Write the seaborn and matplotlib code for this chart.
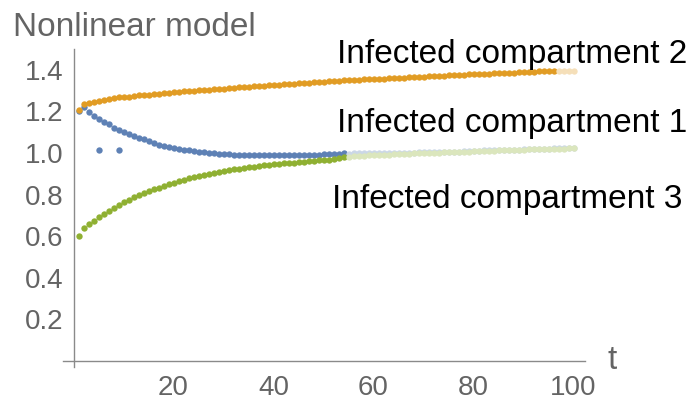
import matplotlib
matplotlib.use("Agg")
import matplotlib.pyplot as plt
import numpy as np
import pandas as pd
import seaborn as sns
from matplotlib.ticker import MultipleLocator, FixedLocator

# sampling times
t = list(range(1, 101))

# infected compartment 1 (blue)
compartment_1 = [
    1.200, 1.222, 1.195, 1.180, 1.162, 1.150, 1.137, 1.122, 1.110, 1.101,
    1.092, 1.082, 1.073, 1.065, 1.057, 1.048, 1.040, 1.035, 1.029, 1.025,
    1.020, 1.016, 1.013, 1.010, 1.007, 1.004, 1.001, 0.998, 0.996, 0.994,
    0.993, 0.992, 0.991, 0.990, 0.989, 0.989, 0.988, 0.988, 0.988, 0.988,
    0.988, 0.988, 0.989, 0.989, 0.990, 0.990, 0.991, 0.991, 0.992, 0.993,
    0.994, 0.995, 0.996, 0.998, 0.997, 0.998, 0.998, 0.998, 0.998, 0.998,
    0.998, 0.999, 0.999, 0.999, 1.000, 1.000, 1.001, 1.002, 1.006, 1.007,
    1.007, 1.006, 1.006, 1.006, 1.006, 1.007, 1.007, 1.008, 1.009, 1.010,
    1.011, 1.012, 1.013, 1.013, 1.014, 1.014, 1.015, 1.016, 1.016, 1.017,
    1.018, 1.018, 1.019, 1.020, 1.021, 1.023, 1.023, 1.023, 1.023, 1.023,
]

# infected compartment 2 (orange)
compartment_2 = [
    1.207, 1.236, 1.242, 1.247, 1.251, 1.256, 1.259, 1.262, 1.267, 1.269,
    1.271, 1.275, 1.277, 1.278, 1.280, 1.284, 1.286, 1.288, 1.290, 1.293,
    1.295, 1.296, 1.298, 1.299, 1.301, 1.303, 1.305, 1.306, 1.308, 1.310,
    1.312, 1.313, 1.315, 1.317, 1.318, 1.320, 1.322, 1.323, 1.325, 1.327,
    1.328, 1.330, 1.331, 1.333, 1.335, 1.336, 1.338, 1.340, 1.342, 1.343,
    1.344, 1.346, 1.347, 1.349, 1.351, 1.352, 1.353, 1.354, 1.355, 1.356,
    1.357, 1.358, 1.359, 1.360, 1.361, 1.362, 1.363, 1.364, 1.366, 1.367,
    1.368, 1.369, 1.370, 1.372, 1.373, 1.374, 1.376, 1.377, 1.378, 1.379,
    1.380, 1.381, 1.382, 1.383, 1.384, 1.385, 1.386, 1.387, 1.388, 1.389,
    1.390, 1.391, 1.392, 1.392, 1.393, 1.394, 1.395, 1.395, 1.396, 1.396,
]

# infected compartment 3 (green)
compartment_3 = [
    0.602, 0.638, 0.657, 0.675, 0.692, 0.707, 0.720, 0.736, 0.752, 0.763,
    0.774, 0.789, 0.799, 0.808, 0.817, 0.825, 0.834, 0.842, 0.850, 0.858,
    0.866, 0.872, 0.879, 0.885, 0.889, 0.895, 0.899, 0.904, 0.909, 0.913,
    0.917, 0.921, 0.925, 0.928, 0.931, 0.935, 0.938, 0.940, 0.943, 0.945,
    0.948, 0.950, 0.952, 0.954, 0.956, 0.958, 0.960, 0.962, 0.964, 0.966,
    0.968, 0.971, 0.975, 0.979, 0.982, 0.984, 0.985, 0.987, 0.988, 0.989,
    0.990, 0.991, 0.992, 0.993, 0.994, 0.995, 0.996, 0.998, 0.999, 1.000,
    1.001, 1.001, 1.002, 1.003, 1.004, 1.004, 1.005, 1.006, 1.007, 1.008,
    1.009, 1.010, 1.010, 1.011, 1.012, 1.013, 1.014, 1.015, 1.016, 1.016,
    1.017, 1.018, 1.018, 1.019, 1.020, 1.020, 1.021, 1.021, 1.022, 1.022,
]

# two stray early readings of compartment 1
stray_t = [5, 9]
stray_1 = [1.013, 1.013]

series_names = ["Infected compartment 1", "Infected compartment 2", "Infected compartment 3"]
series_values = [compartment_1, compartment_2, compartment_3]
series_colors = ["#5E81B5", "#E19C24", "#8FB032"]
# readings from this time on are drawn in a washed-out tint
faded_from = [55, 97, 55]

y_ticks = [0.2, 0.4, 0.6, 0.8, 1.0, 1.2, 1.4]
y_tick_labels = ["0.2", "0.4", "0.6", "0.8", "1.0", "1.2", "1.4"]
x_ticks = [20, 40, 60, 80, 100]
x_tick_labels = ["20", "40", "60", "80", "100"]

sns.set_style("white")
plt.rcParams["font.family"] = ["Liberation Sans", "DejaVu Sans"]

AXIS_GREY = "#8a8a8a"
TEXT_GREY = "#646464"
DOT_SIZE = 21


def tint(hex_color, keep=0.32):
    rgb = np.array(matplotlib.colors.to_rgb(hex_color))
    return tuple(1 - keep * (1 - rgb))


fig = plt.figure(figsize=(6.88, 4.04), dpi=100)
ax = fig.add_axes([63 / 688, 36.8 / 404, 522 / 688, 318.2 / 404])

for name, vals, color, cut in zip(series_names, series_values, series_colors, faded_from):
    df = pd.DataFrame({"t": t, "value": vals})
    solid = df[df["t"] < cut]
    faded = df[df["t"] >= cut]
    sns.scatterplot(data=solid, x="t", y="value", color=color, s=DOT_SIZE,
                    linewidth=0, ax=ax, clip_on=False)
    sns.scatterplot(data=faded, x="t", y="value", color=tint(color), s=DOT_SIZE,
                    linewidth=0, ax=ax, clip_on=False)
    if name == series_names[0]:
        sns.scatterplot(x=stray_t, y=stray_1, color=color, s=DOT_SIZE,
                        linewidth=0, ax=ax)

ax.set_xlim(-2.1, 102.3)
ax.set_ylim(-0.03, 1.50)

# axes crossing at the origin
for side in ("top", "right"):
    ax.spines[side].set_visible(False)
for side in ("left", "bottom"):
    ax.spines[side].set_position(("data", 0))
    ax.spines[side].set_color(AXIS_GREY)
    ax.spines[side].set_linewidth(1.0)

ax.xaxis.set_major_locator(FixedLocator(x_ticks))
ax.set_xticklabels(x_tick_labels)
ax.xaxis.set_minor_locator(MultipleLocator(5))
ax.yaxis.set_major_locator(FixedLocator(y_ticks))
ax.set_yticklabels(y_tick_labels)
ax.yaxis.set_minor_locator(MultipleLocator(0.05))

ax.tick_params(axis="both", which="both", direction="in", color=AXIS_GREY,
               labelcolor=TEXT_GREY, labelsize=20)
ax.tick_params(axis="both", which="major", length=4, width=0.9)
ax.tick_params(axis="both", which="minor", length=2.2, width=0.8)
ax.tick_params(axis="x", which="major", pad=10)
ax.tick_params(axis="y", which="major", pad=7)

ax.set_xlabel("t", fontsize=24, color=TEXT_GREY, ha="left", va="center")
ax.xaxis.set_label_coords(1.043, 0.02)
ax.set_ylabel("Nonlinear model", fontsize=24, color=TEXT_GREY, rotation=0,
              ha="left", va="baseline")
ax.yaxis.set_label_coords(-0.0958, 1.042)

# series labels
label_pos = [(52.7, 1.101), (52.7, 1.431), (51.7, 0.7356)]
for name, (lx, ly) in zip(series_names, label_pos):
    ax.text(lx, ly, name, fontsize=24, color="black", ha="left", va="baseline",
            clip_on=False)

fig.savefig("out.png", dpi=100)
